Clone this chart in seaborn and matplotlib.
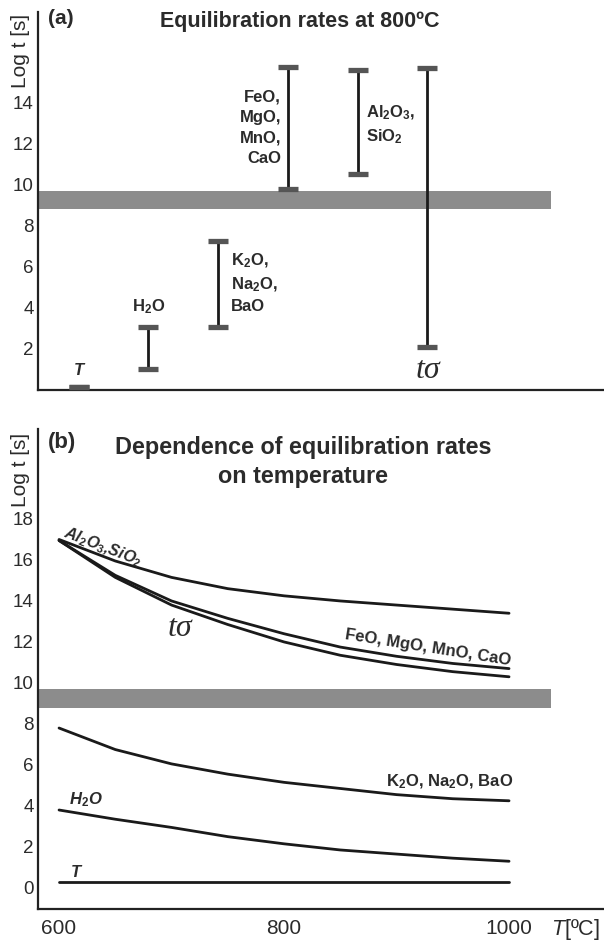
import numpy as np
import pandas as pd
import matplotlib
matplotlib.use("Agg")
import matplotlib.pyplot as plt
import seaborn as sns

# ---------------- data ----------------
# Panel (a): equilibration time ranges at 800 C (log t [s])
cats_a = ["T", "H2O", "K2O", "FeO", "Al2O3", "tsigma"]
low_a = [0.17, 1.0, 3.05, 9.8, 10.5, 2.1]
high_a = [0.17, 3.05, 7.25, 15.7, 15.55, 15.65]

# grey band (eruption/observation time-scale)
band_low = 8.8
band_high = 9.7

# Panel (b): dependence on temperature
temps = [600, 650, 700, 750, 800, 850, 900, 950, 1000]
al_si = [17.0, 15.95, 15.15, 14.6, 14.25, 14.0, 13.8, 13.6, 13.4]
feo = [16.95, 15.25, 14.0, 13.15, 12.4, 11.75, 11.3, 10.95, 10.7]
t_sigma = [16.95, 15.15, 13.8, 12.85, 12.0, 11.35, 10.9, 10.55, 10.3]
k2o = [7.8, 6.75, 6.05, 5.55, 5.15, 4.85, 4.55, 4.35, 4.25]
h2o = [3.8, 3.35, 2.95, 2.5, 2.15, 1.85, 1.65, 1.45, 1.3]
t_temp = [0.3, 0.3, 0.3, 0.3, 0.3, 0.3, 0.3, 0.3, 0.3]

yticks_a = [2, 4, 6, 8, 10, 12, 14]
yticks_b = [0, 2, 4, 6, 8, 10, 12, 14, 16, 18]
xticks_b = [600, 800, 1000]

# ---------------- style ----------------
sns.set_theme(style="white")
plt.rcParams["font.family"] = ["Liberation Sans", "DejaVu Sans"]
plt.rcParams["mathtext.fontset"] = "custom"
plt.rcParams["mathtext.rm"] = "Liberation Sans"
plt.rcParams["mathtext.it"] = "Liberation Sans:italic"
plt.rcParams["mathtext.bf"] = "Liberation Sans:bold"
plt.rcParams["mathtext.bfit"] = "Liberation Sans:bold:italic"
plt.rcParams["mathtext.default"] = "regular"

TXT = "#2b2b2b"
LINE = "#1a1a1a"
BAND = "#8c8c8c"
CAP = "#555555"

W, H = 604, 941
fig = plt.figure(figsize=(W / 100, H / 100), dpi=100)

def fx(px):
    return px / W

def fy(py):
    return 1 - py / H

ax_a = fig.add_axes([fx(38), fy(390), 1 - fx(38), (390 - 12) / H])
ax_b = fig.add_axes([fx(38), fy(909), 1 - fx(38), (909 - 429) / H])

for ax in (ax_a, ax_b):
    for s in ("top", "right"):
        ax.spines[s].set_visible(False)
    for s in ("left", "bottom"):
        ax.spines[s].set_color("#222222")
        ax.spines[s].set_linewidth(1.6)
    ax.tick_params(direction="in", length=5, width=1.1, colors="#333333",
                   labelcolor=TXT, labelsize=13.5, pad=3)

# ---------------- panel (a) ----------------
idx = np.arange(len(cats_a))
ax_a.set_xlim(-0.582, 7.53)
ax_a.set_ylim(0, 18.39)
ax_a.axhspan(band_low, band_high, xmin=0, xmax=0.906, color=BAND, lw=0, zorder=1)
ax_a.vlines(idx, low_a, high_a, color=LINE, lw=2.0, zorder=3)
caps = pd.DataFrame({"x": np.concatenate([idx, idx]),
                     "y": np.concatenate([low_a, high_a])})
sns.scatterplot(data=caps, x="x", y="y", marker="_", s=215, linewidth=3.8,
                color=CAP, ax=ax_a, zorder=4, legend=False)
ax_a.set_xticks([])
ax_a.set_yticks(yticks_a)
ax_a.set_xlabel("")
ax_a.set_ylabel("")

bold = dict(fontweight="bold", color=TXT, fontsize=12)
ax_a.text(idx[0], 0.95, "T", style="italic", ha="center", va="center", **bold)
ax_a.text(idx[1], 4.05, r"H$_\mathbf{2}$O", ha="center", va="center", **bold)
ax_a.annotate("K$_\\mathbf{2}$O,\nNa$_\\mathbf{2}$O,\nBaO", xy=(idx[2], 5.2),
              xytext=(9, 0), textcoords="offset points", ha="left",
              va="center", linespacing=1.4, **bold)
ax_a.annotate("FeO,\nMgO,\nMnO,\nCaO", xy=(idx[3], 12.75), xytext=(-5, 0),
              textcoords="offset points", ha="right", va="center",
              linespacing=1.45, **bold)
ax_a.annotate("Al$_\\mathbf{2}$O$_\\mathbf{3}$,\nSiO$_\\mathbf{2}$", xy=(idx[4], 12.9),
              xytext=(6, 0), textcoords="offset points", ha="left",
              va="center", linespacing=1.4, **bold)
ax_a.text(idx[5], 0.97, "tσ", family=["Liberation Serif", "DejaVu Serif"],
          style="italic", fontsize=23, color=TXT, ha="center", va="center")

# ---------------- panel (b) ----------------
series = {"Al2O3,SiO2": al_si, "FeO": feo, "tsigma": t_sigma,
          "K2O": k2o, "H2O": h2o, "T": t_temp}
df = pd.concat([pd.DataFrame({"T": temps, "v": v, "s": k}) for k, v in series.items()])
ax_b.set_xlim(581.3, 1084.4)
ax_b.set_ylim(-1.03, 22.39)
ax_b.axhspan(band_low, band_high, xmin=0, xmax=0.906, color=BAND, lw=0, zorder=1)
sns.lineplot(data=df, x="T", y="v", units="s", estimator=None, color=LINE,
             lw=2.0, ax=ax_b, zorder=3, legend=False)
ax_b.set_xticks(xticks_b)
ax_b.set_yticks(yticks_b)
ax_b.tick_params(axis="x", labelsize=15, pad=7.5)
ax_b.set_xlabel("")
ax_b.set_ylabel("")

ax_b.text(639, 16.63, r"Al$_\mathbf{2}$O$_\mathbf{3}$,SiO$_\mathbf{2}$", rotation=-21,
          style="italic", ha="center", va="center", rotation_mode="anchor",
          fontweight="bold", color=TXT, fontsize=11.5)
ax_b.text(707, 12.68, "tσ", family=["Liberation Serif", "DejaVu Serif"],
          style="italic", fontsize=23, color=TXT, ha="center", va="center")
ax_b.text(928, 11.7, "FeO, MgO, MnO, CaO", rotation=-9, ha="center",
          va="center", rotation_mode="anchor", **bold)
ax_b.text(947, 5.17, r"K$_\mathbf{2}$O, Na$_\mathbf{2}$O, BaO", ha="center",
          va="center", **bold)
ax_b.text(624, 4.29, r"H$_\mathbf{2}$O", style="italic", ha="center", va="center", **bold)
ax_b.text(615, 0.73, "T", style="italic", ha="center", va="center", **bold)

# ---------------- titles / labels ----------------
fig.text(fx(48), fy(18), "(a)", fontweight="bold", fontsize=15, color=TXT,
         ha="left", va="center")
fig.text(fx(300), fy(22), "Equilibration rates at 800ºC", fontweight="bold",
         fontsize=15.5, color=TXT, ha="center", va="center")
fig.text(fx(48), fy(443), "(b)", fontweight="bold", fontsize=16, color=TXT,
         ha="left", va="center")
fig.text(fx(303), fy(462), "Dependence of equilibration rates\non temperature",
         fontweight="bold", fontsize=16.8, color=TXT, ha="center", va="center",
         linespacing=1.3)
fig.text(fx(20), fy(51), "Log t [s]", rotation=90, fontsize=15, color=TXT,
         ha="center", va="center")
fig.text(fx(20), fy(470), "Log t [s]", rotation=90, fontsize=15, color=TXT,
         ha="center", va="center")
fig.text(fx(575), fy(930), r"$\mathit{T}$[ºC]", fontsize=15.5, color=TXT,
         ha="center", va="center")

fig.savefig("out.png", dpi=100, facecolor="white")
